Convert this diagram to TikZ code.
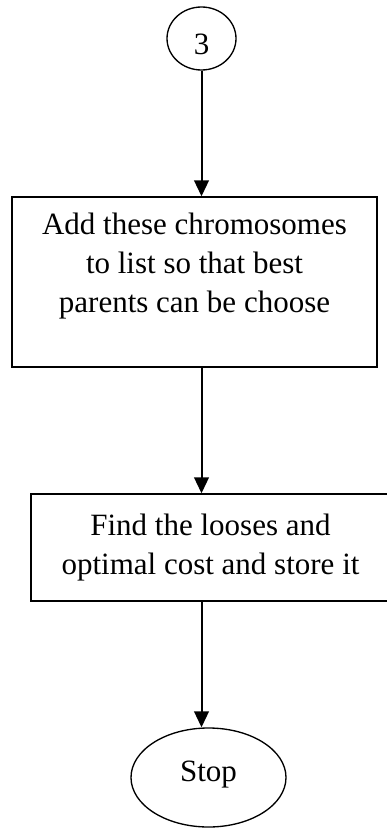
\documentclass[tikz,border=0pt]{standalone}
\usepackage{fontspec}
\setmainfont{Liberation Serif}
\usetikzlibrary{shapes.geometric,arrows.meta}
\begin{document}
\begin{tikzpicture}[x=0.75pt,y=-0.75pt,
    every node/.style={font=\fontsize{23.25}{29.25}\selectfont,inner sep=0pt},
    term/.style={draw,line width=1pt,ellipse},
    proc/.style={draw,line width=1pt,rectangle,align=center},
    flow/.style={line width=1.5pt,-{Triangle[length=12pt,width=11pt]}}]
  \useasboundingbox (0,0) rectangle (386,828);
  \node[term,minimum width=51.75pt,minimum height=47.25pt,text height=24.7pt] (c3) at (201.5,38.5) {3};
  \node[proc,minimum width=273.75pt,minimum height=127.5pt,text depth=28.3pt] (add) at (194.5,282)
    {Add these chromosomes\\to list so that best\\parents can be choose};
  \node[proc,minimum width=269.25pt,minimum height=80.25pt] (find) at (210.5,547.5)
    {Find the looses and\\optimal cost and store it};
  \node[term,minimum width=116.25pt,minimum height=74.25pt,text depth=9pt] (stop) at (208.5,777.5) {Stop};
  \draw[flow] (c3.south) -- (c3.south |- add.north);
  \draw[flow] (add.south -| c3.south) -- (find.north -| c3.south);
  \draw[flow] (find.south -| c3.south) -- (stop.north -| c3.south);
\end{tikzpicture}
\end{document}
